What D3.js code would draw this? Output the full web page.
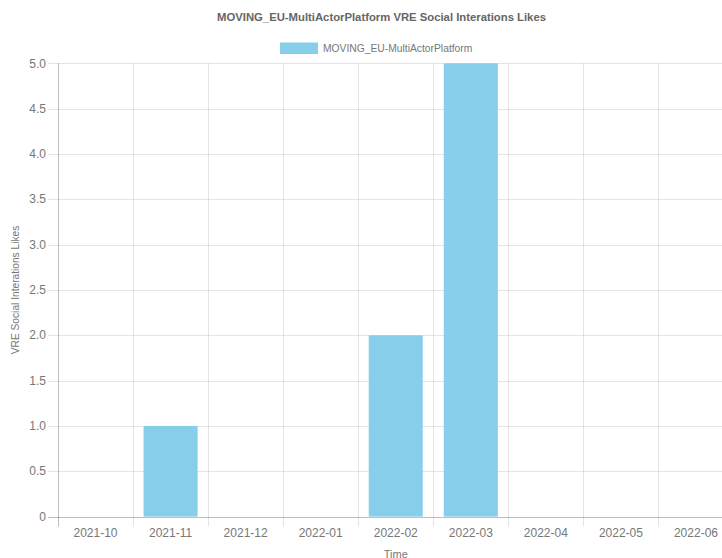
<!DOCTYPE html>
<html><head><meta charset="utf-8">
<script src="https://cdn.jsdelivr.net/npm/d3@7"></script>
<style>body{margin:0;background:#fff;} svg{display:block;}</style>
</head><body>
<svg id="c" width="722" height="558"></svg>
<script>
const categories = ["2021-10","2021-11","2021-12","2022-01","2022-02","2022-03","2022-04","2022-05","2022-06"];
const likes = [0,1,0,0,2,5,0,0,0];
const yTicks = [0,0.5,1,1.5,2,2.5,3,3.5,4,4.5,5];
const yTickLabels = ["0","0.5","1.0","1.5","2.0","2.5","3.0","3.5","4.0","4.5","5.0"];
const seriesName = "MOVING_EU-MultiActorPlatform";
const chartTitle = "MOVING_EU-MultiActorPlatform VRE Social Interations Likes";

(function(){
const svg = d3.select("#c");
const font = "'Helvetica Neue', Helvetica, 'Liberation Sans', Arial, sans-serif";
const txt = "#777";
const grid = "rgba(0,0,0,0.1)";
const pL = 58, pR = 733.5, pT = 63.3, pB = 516.6;

const x = d3.scaleBand().domain(categories).range([pL, pR]);
const y = d3.scaleLinear().domain([0,5]).range([pB, pT]);

svg.append("g").selectAll("line").data(yTicks).join("line")
  .attr("x1", pL-10).attr("x2", pR)
  .attr("y1", d=>Math.round(y(d))+0.5).attr("y2", d=>Math.round(y(d))+0.5)
  .attr("stroke", d=> d===0 ? "rgba(0,0,0,0.25)" : grid).attr("stroke-width",1);
const vb = categories.map(c=>x(c));
svg.append("g").selectAll("line").data(vb).join("line")
  .attr("x1", d=>Math.round(d)+0.5).attr("x2", d=>Math.round(d)+0.5)
  .attr("y1", pT).attr("y2", pB+10)
  .attr("stroke", (d,i)=> i===0 ? "rgba(0,0,0,0.25)" : grid);

svg.append("g").selectAll("rect").data(likes.map((v,i)=>({c:categories[i],v}))).join("rect")
  .attr("x", d=>x(d.c)+x.bandwidth()*0.14)
  .attr("width", x.bandwidth()*0.72)
  .attr("y", d=>y(d.v))
  .attr("height", d=>y(0)-y(d.v))
  .attr("fill","#87CEEB");

svg.append("g").selectAll("text").data(yTicks).join("text")
  .attr("x", pL-12).attr("y", d=>y(d)).attr("dy","0.35em")
  .attr("text-anchor","end").attr("font-family",font).attr("font-size",12).attr("fill",txt)
  .text((d,i)=>yTickLabels[i]);
svg.append("g").selectAll("text").data(categories).join("text")
  .attr("x", d=>x(d)+x.bandwidth()/2).attr("y", 537)
  .attr("text-anchor","middle").attr("font-family",font).attr("font-size",12).attr("fill",txt)
  .text(d=>d);

svg.append("text").attr("x",(pL+pR)/2).attr("y",557.5)
  .attr("text-anchor","middle").attr("font-family",font).attr("font-size",11).attr("fill",txt).text("Time");
svg.append("text").attr("transform",`translate(18.5,${(pT+pB)/2}) rotate(-90)`)
  .attr("text-anchor","middle").attr("font-family",font).attr("font-size",10.2).attr("fill",txt)
  .text("VRE Social Interations Likes");

svg.append("text").attr("x",381.5).attr("y",21)
  .attr("text-anchor","middle").attr("font-family",font).attr("font-size",11.3).attr("font-weight","bold").attr("fill","#666")
  .text(chartTitle);

svg.append("rect").attr("x",280).attr("y",42.5).attr("width",38).attr("height",11.5).attr("fill","#87CEEB");
svg.append("text").attr("x",323).attr("y",52).attr("font-family",font).attr("font-size",10.3).attr("fill",txt).text(seriesName);
})();
</script>
</body></html>
